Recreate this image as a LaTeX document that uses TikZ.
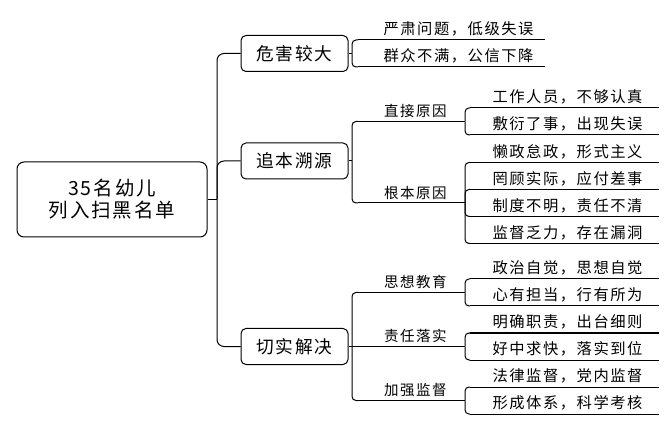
\documentclass[tikz,border=0pt]{standalone}
\usepackage{fontspec}
\setmainfont{Noto Sans CJK SC}[LetterSpace=10]
\usetikzlibrary{positioning}

\begin{document}
\begin{tikzpicture}[x=1pt, y=-1pt, line width=1pt,
	root/.style = {draw, rounded corners=7pt, minimum width=190pt, minimum height=75pt, align=center, font=\fontsize{19.5}{22}\selectfont},
	main/.style = {draw, rounded corners=5pt, minimum width=107pt, minimum height=36pt, font=\fontsize{17.7}{20}\selectfont},
	mid/.style = {anchor=south west, inner xsep=18pt, inner ysep=3pt, text width=70pt, align=right, font=\fontsize{14.5}{17}\selectfont},
	leaf/.style = {anchor=south west, inner xsep=16pt, inner ysep=3pt, text width=156pt, align=right, font=\fontsize{15.3}{17}\selectfont},
	leafa/.style = {leaf, inner xsep=11pt, text width=164pt}]
	\useasboundingbox (0,0) rectangle (672,430);
	% first level
	\node[root] (r) at (112,199.5) {35名幼儿\\列入扫黑名单};
	\node[main] (a) at (294.5,53.5) {危害较大};
	\node[main] (b) at (294.5,161) {追本溯源};
	\node[main] (c) at (294.5,346.5) {切实解决};
	\coordinate (j) at (217,199.5);
	\draw (r) -- (j);
	\draw[rounded corners=7pt] (j) |- (a.west);
	\draw[rounded corners=7pt] (j) |- (b.west);
	\draw[rounded corners=7pt] (j) |- (c.west);
	% second level
	\node[leafa] (a1) at (358,40) {严肃问题，低级失误};
	\node[leafa] (a2) at (358,67) {群众不满，公信下降};
	\node[mid] (b1) at (358,121.5) {直接原因};
	\node[mid] (b2) at (358,203) {根本原因};
	\node[mid] (c1) at (358,292.5) {思想教育};
	\node[mid] (c2) at (358,346.5) {责任落实};
	\node[mid] (c3) at (358,400.5) {加强监督};
	\coordinate (ja) at (352,53.5);
	\coordinate (jb) at (352,161);
	\coordinate (jc) at (352,346.5);
	\draw (a) -- (ja);
	\draw (b) -- (jb);
	\draw (c) -- (jc) -- (c2.south west);
	\draw[rounded corners=4pt] (ja) |- (a1.south west);
	\draw[rounded corners=4pt] (ja) |- (a2.south west);
	\draw[rounded corners=4pt] (jb) |- (b1.south west);
	\draw[rounded corners=4pt] (jb) |- (b2.south west);
	\draw[rounded corners=4pt] (jc) |- (c1.south west);
	\draw[rounded corners=4pt] (jc) |- (c3.south west);
	% third level
	\node[leaf] (b11) at (470,108) {工作人员，不够认真};
	\node[leaf] (b12) at (470,135) {敷衍了事，出现失误};
	\node[leaf] (b21) at (470,162.5) {懒政怠政，形式主义};
	\node[leaf] (b22) at (470,189.5) {罔顾实际，应付差事};
	\node[leaf] (b23) at (470,216.5) {制度不明，责任不清};
	\node[leaf] (b24) at (470,243.5) {监督乏力，存在漏洞};
	\node[leaf] (c11) at (470,279) {政治自觉，思想自觉};
	\node[leaf] (c12) at (470,306) {心有担当，行有所为};
	\node[leaf] (c21) at (470,333) {明确职责，出台细则};
	\node[leaf] (c22) at (470,360) {好中求快，落实到位};
	\node[leaf] (c31) at (470,387) {法律监督，党内监督};
	\node[leaf] (c32) at (470,414) {形成体系，科学考核};
	\foreach \p/\k in {b1/b11, b1/b12, b2/b21, b2/b22, b2/b23, b2/b24, c1/c11, c1/c12, c2/c21, c2/c22, c3/c31, c3/c32}
		\draw[rounded corners=4pt] (\p.south east) |- (\k.south west);
	% underlines
	\foreach \n in {a1, a2, b1, b2, c1, c2, c3, b11, b12, b21, b22, b23, b24, c11, c12, c21, c22, c31, c32}
		\draw (\n.south west) -- (\n.south east);
\end{tikzpicture}
\end{document}
